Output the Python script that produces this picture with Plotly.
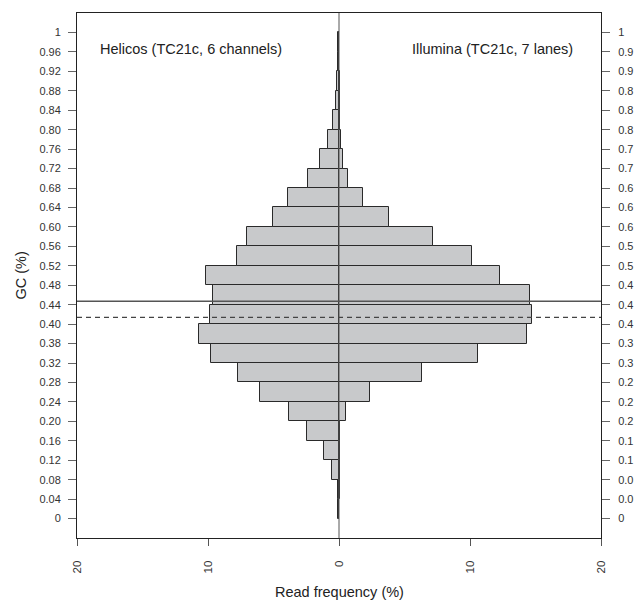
import plotly.graph_objects as go

# GC bins (lower edges), width 0.04
bin_centers = [round(0.02 + 0.04 * i, 2) for i in range(25)]
bin_width = 0.04

helicos = [0.05, 0.10, 0.51, 1.18, 2.42, 3.80, 6.04, 7.70, 9.74, 10.68, 9.84, 9.61,
           10.12, 7.82, 7.06, 5.02, 3.90, 2.37, 1.43, 0.82, 0.44, 0.22, 0.13, 0.08, 0.05]
illumina = [0.03, 0.05, 0.05, 0.06, 0.10, 0.53, 2.40, 6.30, 10.60, 14.37, 14.70, 14.55,
            12.31, 10.14, 7.21, 3.82, 1.84, 0.72, 0.30, 0.15, 0.10, 0.06, 0.04, 0.03, 0.02]

solid_line_gc = 0.447
dashed_line_gc = 0.414

ytick_vals = [round(0.04 * i, 2) for i in range(26)]
left_tick_text = ["0", "0.04", "0.08", "0.12", "0.16", "0.20", "0.24", "0.28", "0.32",
                  "0.38", "0.40", "0.44", "0.48", "0.52", "0.56", "0.60", "0.64", "0.68",
                  "0.72", "0.76", "0.80", "0.84", "0.88", "0.92", "0.96", "1"]
right_tick_text = ["0", "0.0", "0.0", "0.1", "0.1", "0.2", "0.2", "0.2", "0.3", "0.3",
                   "0.4", "0.4", "0.4", "0.5", "0.5", "0.6", "0.6", "0.6", "0.7", "0.7",
                   "0.8", "0.8", "0.8", "0.9", "0.9", "1"]
xtick_vals = [-20, -10, 0, 10, 20]
xtick_text = ["20", "10", "0", "10", "20"]

FONT = "Liberation Sans, Arial, sans-serif"
fill = "#c8c9cb"
edge = "#2a2a2a"

fig = go.Figure()
fig.add_trace(go.Bar(y=bin_centers, x=[-v for v in helicos], orientation="h",
                     width=bin_width, marker=dict(color=fill, line=dict(color=edge, width=1)),
                     showlegend=False, hoverinfo="skip"))
fig.add_trace(go.Bar(y=bin_centers, x=illumina, orientation="h",
                     width=bin_width, marker=dict(color=fill, line=dict(color=edge, width=1)),
                     showlegend=False, hoverinfo="skip"))
fig.add_trace(go.Scatter(x=[None], y=[None], yaxis="y2", showlegend=False, hoverinfo="skip"))

fig.add_vline(x=0, line=dict(color="#555555", width=1))
fig.add_hline(y=solid_line_gc, line=dict(color="#555555", width=1.3))
fig.add_hline(y=dashed_line_gc, line=dict(color="#444444", width=1.2, dash="5px,4px"))

fig.add_annotation(x=-11.3, y=0.965, text="Helicos (TC21c, 6 channels)", showarrow=False,
                   font=dict(size=14.5, color="#222222", family=FONT))
fig.add_annotation(x=11.7, y=0.965, text="Illumina (TC21c, 7 lanes)", showarrow=False,
                   font=dict(size=14.5, color="#222222", family=FONT))
fig.add_annotation(xref="paper", yref="paper", x=0.5, y=0, yshift=-54, yanchor="middle",
                   text="Read frequency (%)", showarrow=False,
                   font=dict(size=14.5, color="#222222", family=FONT))
fig.add_annotation(xref="paper", yref="paper", x=0, y=0.5, xshift=-57, xanchor="center",
                   textangle=-90, text="GC (%)", showarrow=False,
                   font=dict(size=14.5, color="#222222", family=FONT))

fig.update_layout(
    width=634, height=603,
    margin=dict(l=77, r=33, t=13, b=65, autoexpand=False),
    paper_bgcolor="white", plot_bgcolor="white",
    barmode="overlay", bargap=0,
    font=dict(family=FONT, size=11, color="#333333"),
    xaxis=dict(range=[-20, 20], tickvals=xtick_vals, ticktext=xtick_text, tickangle=-90,
               ticks="outside", ticklen=7, tickcolor="#555555", showgrid=False,
               zeroline=False, showline=True, linecolor="#222222", linewidth=1, mirror=True,
               automargin=False, ticklabelstandoff=10,
               tickfont=dict(size=11.5, color="#333333")),
    yaxis=dict(range=[-0.04, 1.04], tickvals=ytick_vals, ticktext=left_tick_text,
               ticks="outside", ticklen=8, tickcolor="#666666", showgrid=False,
               zeroline=False, showline=True, linecolor="#222222", linewidth=1, mirror=True,
               automargin=False, ticklabelstandoff=5,
               tickfont=dict(size=11, color="#333333")),
    yaxis2=dict(range=[-0.04, 1.04], overlaying="y", side="right", tickvals=ytick_vals,
                ticktext=right_tick_text, ticks="outside", ticklen=8, tickcolor="#666666",
                showgrid=False, zeroline=False, showline=True, linecolor="#222222",
                automargin=False, ticklabelstandoff=6,
                tickfont=dict(size=11, color="#333333")),
)

fig.write_html("out.html")
